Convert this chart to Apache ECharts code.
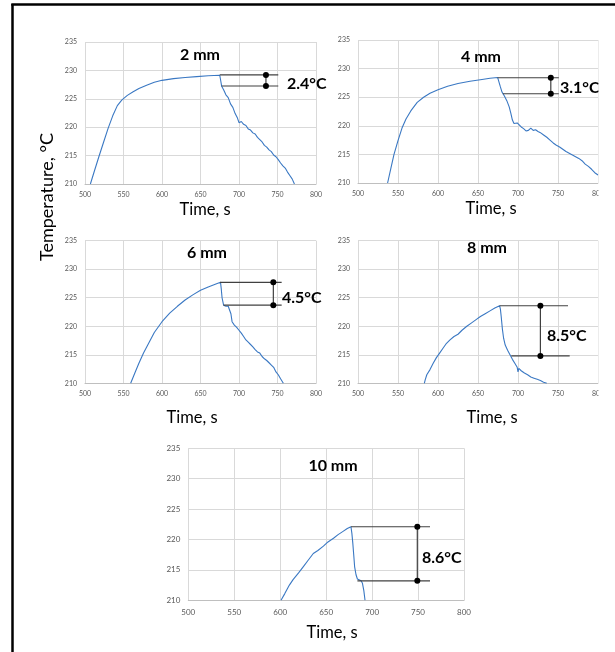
<!DOCTYPE html>
<html>
<head>
<meta charset="utf-8">
<script src="https://cdn.jsdelivr.net/npm/echarts@6/dist/echarts.min.js"></script>
<style>
html,body{margin:0;padding:0;background:#fff;}
#c{width:615px;height:652px;}
</style>
</head>
<body>
<div id="c"></div>
<script>
// ---- data ----
const panelTitles = ['2 mm', '4 mm', '6 mm', '8 mm', '10 mm'];
const deltaLabels = ['2.4°C', '3.1°C', '4.5°C', '8.5°C', '8.6°C'];
const xTicks = [500, 550, 600, 650, 700, 750, 800];
const yTicks = [210, 215, 220, 225, 230, 235];

const time2 = [507,512,518,524,530,536,542,548,555,562,570,580,590,600,615,630,645,660,675,676,677.5,680,683,686,689,692,695,698,700,703,706,709,712,715,718,721,724,727,730,733,736,739,742,745,748,751,754,757,760,763,766,769,772];
const temp2 = [210,212.2,214.8,217.3,219.8,222.0,223.8,224.8,225.6,226.2,226.8,227.4,227.9,228.25,228.55,228.75,228.9,229.05,229.15,228.4,227.2,226.6,225.7,225.2,224.1,223.5,222.4,221.6,220.8,221.0,220.5,220.3,219.7,219.5,219.0,218.8,218.2,217.8,217.4,216.8,216.5,216.0,215.7,215.1,214.8,214.3,213.7,213.2,212.8,212.1,211.5,210.9,210.0];

const time4 = [537,541,545,550,555,560,566,574,582,590,600,612,625,640,655,665,674.5,676,678,680,683,686,689,691,693,695,697,699,701,704,707,710,713,716,719,722,725,728,732,736,740,744,748,752,756,760,764,768,772,776,780,784,788,792,796,800];
const temp4 = [210,212.5,215,217.4,219.6,221.2,222.6,224.1,225.0,225.7,226.3,226.9,227.4,227.8,228.1,228.3,228.45,228.2,226.8,225.9,225.2,224.4,223.3,222.2,221.0,220.4,220.2,220.5,220.3,219.8,219.5,219.1,219.2,219.6,219.2,219.3,219.0,218.8,218.4,218.0,217.5,217.0,216.6,216.3,215.9,215.5,215.2,214.9,214.6,214.3,213.9,213.3,212.9,212.4,211.8,211.4];

const time6 = [559.3,565,570,576,583,590,600,610,620,630,640,650,660,670,676,677,678,680,683,686,688,689.5,691,694,697,700,703,706,709,712,715,718,721,724,727,730,733,736,739,742,745,748,751,754,757.6];
const temp6 = [210,211.9,213.5,215.3,217.1,218.9,220.8,222.3,223.5,224.6,225.5,226.3,226.9,227.4,227.7,226.5,225.0,223.7,223.5,223.5,223.3,222.2,220.8,220.2,219.8,219.3,218.8,218.2,217.6,217.2,216.8,216.4,215.9,215.5,215.3,214.7,214.3,214.0,213.6,213.2,212.8,212.0,211.5,210.8,210];

const time8 = [582.9,584,586,590,594,598,602,606,610,615,620,625,630,636,642,648,653,659,665,671,677,678,679,680.5,682,684,687,690,693,696,699,700,701,704,708,712,716,720,724,728,732,736];
const temp8 = [210,210.6,211.5,212.4,213.5,214.5,215.3,216.1,216.9,217.6,218.2,218.6,219.3,220.0,220.6,221.2,221.7,222.2,222.7,223.2,223.6,223.0,221.7,219.5,217.9,216.7,215.8,215.0,214.2,213.5,212.8,212.0,212.6,212.2,211.8,211.5,211.1,210.9,210.7,210.5,210.2,210.0];

const time10 = [600.9,605,610,614,620,625,630,636,641,647,652,658,663,668,673,677,678,679,680,681,682.5,684,686,688,689.5,691,692.3];
const temp10 = [210,211.1,212.5,213.4,214.5,215.5,216.5,217.7,218.2,218.9,219.6,220.2,220.8,221.3,221.8,222.1,221.0,219.4,217.5,215.5,214.2,213.5,213.3,213.2,212.8,211.6,210];

// annotation brackets
const bracketTopTemp   = [229.2, 228.4, 227.7, 223.6, 222.1];
const bracketTopStart  = [675, 674.5, 675.3, 677, 677];
const bracketBotTemp   = [227.25, 225.6, 223.7, 214.8, 213.2];
const bracketBotStart  = [677.5, 681, 680, 691.6, 684];
const bracketTopEnd    = [751, 751, 755.4, 762.5, 763];
const bracketBotEnd    = [751, 751, 755.4, 764.6, 763];
const bracketVertT     = [735, 741, 744.6, 728, 749.2];

const times = [time2, time4, time6, time8, time10];
const temps = [temp2, temp4, temp6, temp8, temp10];

// ---- layout ----
const grids = [
  {left:85, top:42, width:231, height:142},
  {left:358, top:40, width:240, height:143},
  {left:85, top:240.7, width:231, height:142.6},
  {left:358, top:240.7, width:240, height:142.6},
  {left:188.3, top:448.3, width:275.7, height:152}
];
const tickFont = [7, 7, 7, 7, 8];
const FONT = 'Lato, "Open Sans", sans-serif';

const xAxes = [], yAxes = [], series = [];
grids.forEach((g, i) => {
  xAxes.push({
    gridIndex:i, type:'value', min:xTicks[0], max:xTicks[xTicks.length-1], interval:xTicks[1]-xTicks[0],
    axisLine:{show:true, lineStyle:{color:'#bfbfbf', width:1}},
    axisTick:{show:false},
    splitLine:{show:true, lineStyle:{color:'#d9d9d9', width:1}},
    axisLabel:{fontSize:tickFont[i], color:'#595959', fontFamily:FONT, margin:i===4?8:7}
  });
  yAxes.push({
    gridIndex:i, type:'value', min:yTicks[0], max:yTicks[yTicks.length-1], interval:yTicks[1]-yTicks[0],
    axisLine:{show:false}, axisTick:{show:false},
    splitLine:{show:true, lineStyle:{color:'#d9d9d9', width:1}},
    axisLabel:{fontSize:tickFont[i], color:'#595959', fontFamily:FONT, margin:8}
  });
  series.push({
    type:'line', xAxisIndex:i, yAxisIndex:i, showSymbol:false, symbol:'none', clip:true,
    lineStyle:{color:'#3a78c3', width:1.1}, animation:false,
    data: times[i].map((t, k) => [t, temps[i][k]])
  });
  const lineStyle = {color:'#404040', width:1.2};
  series.push({
    type:'line', xAxisIndex:i, yAxisIndex:i, symbol:'none', animation:false, lineStyle:lineStyle,
    data:[[bracketTopStart[i], bracketTopTemp[i]], [bracketTopEnd[i], bracketTopTemp[i]]]
  });
  series.push({
    type:'line', xAxisIndex:i, yAxisIndex:i, symbol:'none', animation:false, lineStyle:lineStyle,
    data:[[bracketBotStart[i], bracketBotTemp[i]], [bracketBotEnd[i], bracketBotTemp[i]]]
  });
  series.push({
    type:'line', xAxisIndex:i, yAxisIndex:i, symbol:'circle', symbolSize:6, showSymbol:true, animation:false,
    itemStyle:{color:'#000'}, lineStyle:{color:'#404040', width:1.2},
    data:[[bracketVertT[i], bracketTopTemp[i]], [bracketVertT[i], bracketBotTemp[i]]]
  });
});

const titlePos = [[200,55],[481,57],[207,253],[487,248],[333,466]];
const deltaPos = [[287,84],[560,88],[282,298],[547,336],[422,558]];
const timePos = [[205,210],[491,209],[192,418],[492,418],[332,633]];

const graphics = [];
panelTitles.forEach((t, i) => {
  graphics.push({type:'text', x:titlePos[i][0], y:titlePos[i][1], z:10,
    style:{text:t, fontSize:16, fontWeight:'bold', fontFamily:FONT, fill:'#000', align:'center', verticalAlign:'middle'}});
  graphics.push({type:'text', x:deltaPos[i][0], y:deltaPos[i][1], z:10,
    style:{text:deltaLabels[i], fontSize:16, fontWeight:'bold', fontFamily:FONT, fill:'#000', align:'left', verticalAlign:'middle'}});
  graphics.push({type:'text', x:timePos[i][0], y:timePos[i][1], z:10,
    style:{text:'Time, s', fontSize:16.5, fontFamily:FONT, fill:'#000', align:'center', verticalAlign:'middle'}});
});
graphics.push({type:'text', x:47, y:197, rotation:Math.PI/2, z:10,
  style:{text:'Temperature, °C', fontSize:18, fontFamily:FONT, fill:'#000', align:'center', verticalAlign:'middle'}});
// crop mask on the right edge
graphics.push({type:'rect', shape:{x:598.5, y:8, width:20, height:420}, style:{fill:'#fff'}, z:20});
// frame
graphics.push({type:'line', shape:{x1:12.5, y1:4, x2:12.5, y2:652}, style:{stroke:'#000', lineWidth:2.5}, z:30});
graphics.push({type:'line', shape:{x1:11.3, y1:4.5, x2:615, y2:4.5}, style:{stroke:'#000', lineWidth:2.5}, z:30});

const chart = echarts.init(document.getElementById('c'), null, {renderer:'canvas'});
chart.setOption({
  backgroundColor:'#fff',
  animation:false,
  grid: grids.map(g => Object.assign({containLabel:false}, g)),
  xAxis: xAxes,
  yAxis: yAxes,
  series: series,
  graphic: graphics
});
</script>
</body>
</html>
